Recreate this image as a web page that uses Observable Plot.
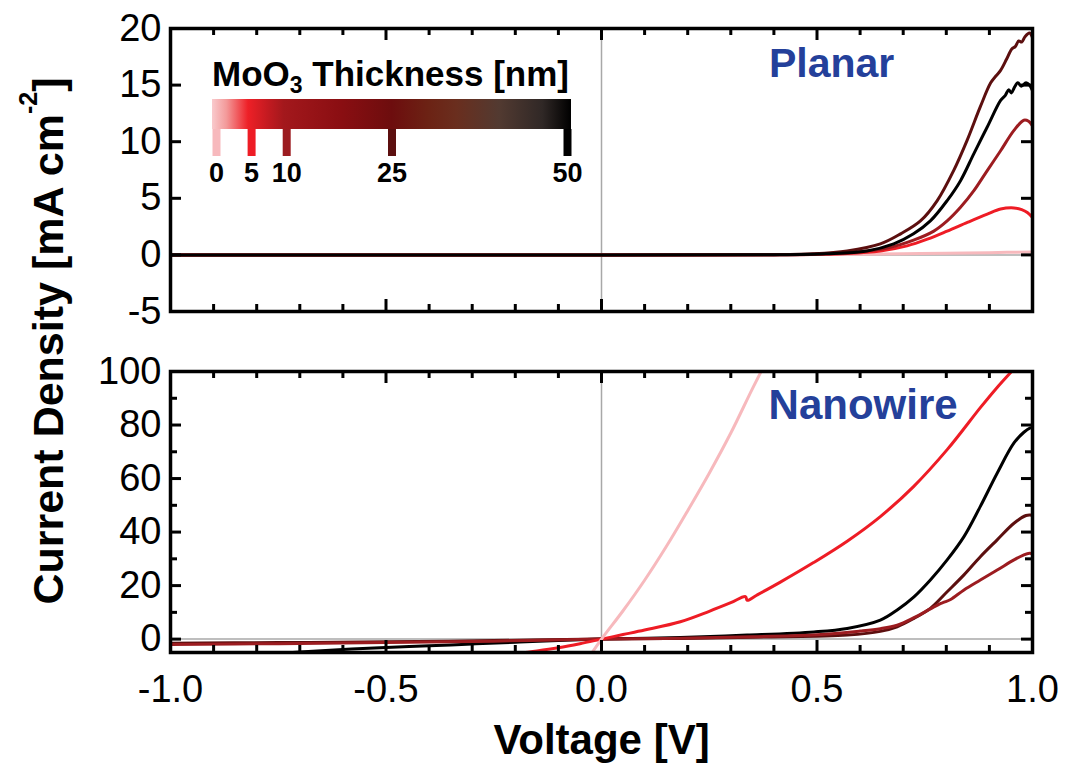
<!DOCTYPE html>
<html>
<head>
<meta charset="utf-8">
<script src="https://cdn.jsdelivr.net/npm/d3@7"></script>
<script src="https://cdn.jsdelivr.net/npm/@observablehq/plot@0.6"></script>
<style>
  html, body { margin: 0; padding: 0; background: #fff; }
  #chart { position: relative; width: 1068px; height: 764px; overflow: hidden;
           font-family: "Liberation Sans", Arial, Helvetica, sans-serif; }
  #chart > svg { position: absolute; left: 0; }
</style>
</head>
<body>
<div id="chart"></div>
<script>
// MoO3 interlayer thickness (nm) and the colour used for each curve
const thicknessNm = [0, 5, 10, 25, 50];
const thicknessColors = ["#f7b9bd", "#ee1c25", "#9c1c20", "#5c0f0f", "#000000"];

// Colour ramp of the thickness legend: [thickness nm, colour]
const rampStops = [
  [0, "#f9cacd"], [2, "#f39a9a"], [5, "#ee2027"], [8, "#c01a20"], [10, "#a3181c"],
  [18, "#8a0e12"], [25, "#6d0d0e"], [30, "#6c2214"], [34, "#6a2e1e"], [40, "#523a31"],
  [46, "#302826"], [50, "#000000"]
];

// Axis ticks
const xMajorTicks = [-1, -0.5, 0, 0.5, 1];
const xMinorTicks = [-0.9, -0.8, -0.7, -0.6, -0.4, -0.3, -0.2, -0.1, 0.1, 0.2, 0.3, 0.4, 0.6, 0.7, 0.8, 0.9];
const planarYTicks = [-5, 0, 5, 10, 15, 20];
const nanoYMajorTicks = [0, 20, 40, 60, 80, 100];
const nanoYMinorTicks = [10, 30, 50, 70, 90];

// Planar devices: [voltage V, current density mA cm^-2]
const planar0 = [[-1, 0], [0, 0], [0.4, 0.01], [0.5, 0.03], [0.6, 0.06], [0.7, 0.1], [0.8, 0.15], [0.9, 0.2], [1.0, 0.26]];
const planar5 = [[-1, 0], [0, 0], [0.4, 0.01], [0.5, 0.05], [0.57, 0.12], [0.647, 0.35], [0.709, 0.8], [0.756, 1.39],
  [0.802, 2.1], [0.849, 2.87], [0.895, 3.6], [0.926, 4.05], [0.957, 4.15], [0.975, 4.0], [0.988, 3.75], [1.0, 3.3]];
const planar10 = [[-1, 0], [0, 0], [0.4, 0.01], [0.5, 0.06], [0.59, 0.25], [0.663, 0.6], [0.724, 1.3], [0.771, 2.1],
  [0.802, 3.0], [0.833, 4.2], [0.864, 5.67], [0.895, 7.45], [0.926, 9.2], [0.957, 11.0], [0.98, 11.9], [0.991, 11.8], [1.0, 11.4]];
const planar25 = [[-1, 0], [0, 0], [0.4, 0.02], [0.49, 0.1], [0.57, 0.35], [0.647, 0.97], [0.694, 1.86], [0.74, 3.0],
  [0.779, 4.8], [0.817, 7.45], [0.848, 10.1], [0.879, 13.1], [0.903, 15.2], [0.915, 15.8], [0.926, 16.3], [0.94, 17.3],
  [0.952, 18.2], [0.96, 18.4], [0.968, 18.9], [0.975, 18.8], [0.983, 19.3], [0.993, 19.6], [1.0, 19.2]];
const planar50 = [[-1, 0], [0, 0], [0.4, 0.01], [0.52, 0.1], [0.616, 0.35], [0.678, 0.97], [0.724, 1.86], [0.763, 3.0],
  [0.802, 4.8], [0.833, 6.56], [0.864, 8.95], [0.895, 11.3], [0.926, 13.65], [0.937, 14.1], [0.945, 14.6], [0.951, 14.3],
  [0.958, 14.8], [0.966, 15.2], [0.974, 14.9], [0.985, 15.2], [0.993, 15.0], [1.0, 14.5]];

// Nanowire devices: [voltage V, current density mA cm^-2]
const nano0 = [[-0.03, -7], [0, 0], [0.05, 10.6], [0.1, 22], [0.15, 34.5], [0.2, 48], [0.25, 62], [0.3, 77], [0.35, 93.5], [0.38, 103]];
const nano5 = [[-0.2, -5.4], [-0.15, -4.4], [-0.1, -3.2], [-0.05, -1.7], [0, 0], [0.05, 1.7], [0.1, 3.4], [0.183, 6.5],
  [0.25, 10.4], [0.3, 13.6], [0.334, 15.9], [0.338, 14.5], [0.36, 16.4], [0.415, 21.3], [0.492, 28.6], [0.57, 36.6],
  [0.647, 45.8], [0.724, 57], [0.802, 70.8], [0.879, 86.5], [0.915, 93.5], [0.96, 101.5]];
const nano10 = [[-1, -2.0], [-0.75, -1.7], [-0.5, -1.3], [-0.25, -0.75], [0, 0], [0.183, 0.35], [0.35, 0.9], [0.5, 1.6],
  [0.6, 3.0], [0.647, 3.9], [0.686, 5.2], [0.725, 8.0], [0.763, 11.3], [0.785, 13.2], [0.795, 13.8], [0.81, 14.8],
  [0.841, 18.4], [0.879, 22.1], [0.918, 25.8], [0.957, 29.6], [0.98, 31.5], [0.993, 32.1], [1.0, 31.9]];
const nano25 = [[-1, -1.5], [-0.75, -1.3], [-0.5, -1.0], [-0.25, -0.55], [0, 0], [0.183, 0.25], [0.35, 0.7], [0.5, 1.1],
  [0.57, 1.5], [0.647, 2.9], [0.686, 4.6], [0.725, 7.75], [0.763, 11.5], [0.802, 17.7], [0.841, 24], [0.879, 30.8],
  [0.918, 37.1], [0.957, 43.3], [0.985, 46.2], [0.995, 46.4], [1.0, 46.1]];
const nano50 = [[-0.8, -5.9], [-0.7, -4.8], [-0.6, -3.9], [-0.5, -3.1], [-0.4, -2.5], [-0.3, -1.8], [-0.2, -1.15],
  [-0.1, -0.55], [0, 0], [0.183, 0.6], [0.338, 1.5], [0.493, 2.7], [0.57, 4.0], [0.647, 7.1], [0.686, 10.9],
  [0.725, 15.8], [0.763, 22.1], [0.802, 29.6], [0.841, 38.3], [0.879, 49.6], [0.918, 62], [0.957, 73.3],
  [0.98, 77.3], [0.995, 78.9], [1.0, 79]];

const FONT = '"Liberation Sans", Arial, Helvetica, sans-serif';
const WIDTH = 1068, ML = 170, MR = 36;
const chart = document.getElementById("chart");

const colorOf = nm => thicknessColors[thicknessNm.indexOf(nm)];

function curves(series) {
  return series.map(([nm, pts]) => Plot.line(pts, {
    x: d => d[0], y: d => d[1], stroke: colorOf(nm), strokeWidth: 3,
    curve: "catmull-rom", clip: true
  }));
}

// Inward-pointing ticks on all four sides of the frame
function innerTicks(plotW, plotH, yMajor, yMinor) {
  const s = {stroke: "#000", strokeWidth: 3};
  const big = 12, small = 7;
  return [
    Plot.ruleX(xMajorTicks, {x: d => d, insetTop: plotH - big, ...s}),
    Plot.ruleX(xMajorTicks, {x: d => d, insetBottom: plotH - big, ...s}),
    Plot.ruleX(xMinorTicks, {x: d => d, insetTop: plotH - small, ...s}),
    Plot.ruleX(xMinorTicks, {x: d => d, insetBottom: plotH - small, ...s}),
    Plot.ruleY(yMajor, {y: d => d, insetRight: plotW - 11, ...s}),
    Plot.ruleY(yMajor, {y: d => d, insetLeft: plotW - 11, ...s}),
    Plot.ruleY(yMinor, {y: d => d, insetRight: plotW - 7, ...s}),
    Plot.ruleY(yMinor, {y: d => d, insetLeft: plotW - 7, ...s})
  ];
}

const zeroLine = {stroke: "#a8a8a8", strokeWidth: 1.5};
const baseStyle = {fontFamily: FONT, fontSize: "38px", color: "#000", background: "transparent", overflow: "visible"};

// Upper panel: planar devices
const topH = 340, topMT = 28, topMB = 29;
const topPlot = Plot.plot({
  width: WIDTH, height: topH, marginLeft: ML, marginRight: MR, marginTop: topMT, marginBottom: topMB,
  x: {domain: [-1, 1], axis: null},
  y: {domain: [-5, 20], axis: null},
  style: baseStyle,
  marks: [
    Plot.ruleX([0], zeroLine),
    Plot.ruleY([0], zeroLine),
    ...curves([[0, planar0], [5, planar5], [10, planar10], [25, planar25], [50, planar50]]),
    ...innerTicks(WIDTH - ML - MR, topH - topMT - topMB, planarYTicks, []),
    Plot.frame({stroke: "#000", strokeWidth: 3.5}),
    Plot.axisY(planarYTicks, {tickSize: 0, tickPadding: 9, tickFormat: d => String(d), label: null, fontSize: 38}),
    Plot.text(["Planar"], {x: 0.534, y: 15.7, text: d => d, fill: "#24409a", fontSize: 41,
      fontWeight: "bold", lineAnchor: "bottom"})
  ]
});
topPlot.style.top = "0px";
chart.appendChild(topPlot);

// Thickness legend drawn over the upper panel
const legendW = 620;
const legend = Plot.plot({
  width: legendW, height: 200, marginLeft: 216, marginRight: legendW - 567, marginTop: 99, marginBottom: 44,
  x: {domain: d3.extent(thicknessNm), axis: null},
  color: {type: "identity"},
  style: {fontFamily: FONT, background: "transparent", overflow: "visible"},
  marks: [
    () => {
      const defs = d3.create("svg:defs");
      const g = defs.append("linearGradient").attr("id", "moo3-ramp")
        .attr("x1", 0).attr("x2", 1).attr("y1", 0).attr("y2", 0);
      const maxNm = d3.max(thicknessNm);
      rampStops.forEach(([t, c]) => g.append("stop").attr("offset", t / maxNm).attr("stop-color", c));
      return defs.node();
    },
    Plot.barX([d3.extent(thicknessNm)], {x1: d => d[0], x2: d => d[1], insetLeft: -4, insetRight: -4,
      insetBottom: 27, fill: "url(#moo3-ramp)"}),
    Plot.ruleX(thicknessNm, {x: d => d, stroke: d => colorOf(d), strokeWidth: 8, insetTop: 30}),
    Plot.text(thicknessNm, {x: d => d, text: d => String(d), frameAnchor: "bottom", lineAnchor: "top",
      dy: 6, fontSize: 27, fontWeight: "bold", fill: "#000"}),
    (index, scales, values, dims) => {
      const t = d3.create("svg:text")
        .attr("x", dims.marginLeft - 4).attr("y", dims.marginTop - 13)
        .attr("text-anchor", "start")
        .attr("font-size", 35).attr("font-weight", "bold").attr("fill", "#000");
      t.append("tspan").text("MoO");
      t.append("tspan").attr("font-size", 23).attr("dy", 7).text("3");
      t.append("tspan").attr("dy", -7).text(" Thickness [nm]");
      return t.node();
    }
  ]
});
legend.style.top = "0px";
legend.style.pointerEvents = "none";
chart.appendChild(legend);

// Lower panel: nanowire devices
const botTop = 340, botH = 424, botMT = 31, botMB = 112;
const bottomPlot = Plot.plot({
  width: WIDTH, height: botH, marginLeft: ML, marginRight: MR, marginTop: botMT, marginBottom: botMB,
  x: {domain: [-1, 1], axis: null},
  y: {domain: [-5, 100], axis: null},
  style: baseStyle,
  marks: [
    Plot.ruleX([0], zeroLine),
    Plot.ruleY([0], zeroLine),
    ...curves([[50, nano50], [25, nano25], [10, nano10], [5, nano5], [0, nano0]]),
    ...innerTicks(WIDTH - ML - MR, botH - botMT - botMB, nanoYMajorTicks, nanoYMinorTicks),
    Plot.frame({stroke: "#000", strokeWidth: 3.5}),
    Plot.axisY(nanoYMajorTicks, {tickSize: 0, tickPadding: 9, tickFormat: d => String(d), label: null, fontSize: 38}),
    Plot.axisX(xMajorTicks, {tickSize: 0, tickPadding: 23, tickFormat: d => d.toFixed(1), label: null, fontSize: 38}),
    Plot.text(["Nanowire"], {x: 0.607, y: 82.3, text: d => d, fill: "#24409a", fontSize: 42,
      fontWeight: "bold", lineAnchor: "bottom"}),
    Plot.text(["Voltage [V]"], {frameAnchor: "bottom", text: d => d, dy: 101, fontSize: 42,
      fontWeight: "bold", lineAnchor: "bottom", fill: "#000"})
  ]
});
bottomPlot.style.top = botTop + "px";
chart.appendChild(bottomPlot);

// Shared y-axis title spanning both panels
const titleSvg = d3.create("svg").attr("width", WIDTH).attr("height", 764)
  .style("position", "absolute").style("left", "0px").style("top", "0px").style("pointer-events", "none");
const yTitle = titleSvg.append("text")
  .attr("transform", "translate(63,341) rotate(-90)")
  .attr("text-anchor", "middle").attr("font-family", FONT)
  .attr("font-size", 43).attr("font-weight", "bold").attr("fill", "#000");
yTitle.append("tspan").text("Current Density [mA cm");
yTitle.append("tspan").attr("font-size", 25).attr("dy", -26).text("-2");
yTitle.append("tspan").attr("dy", 26).text("]");
chart.appendChild(titleSvg.node());
</script>
</body>
</html>
